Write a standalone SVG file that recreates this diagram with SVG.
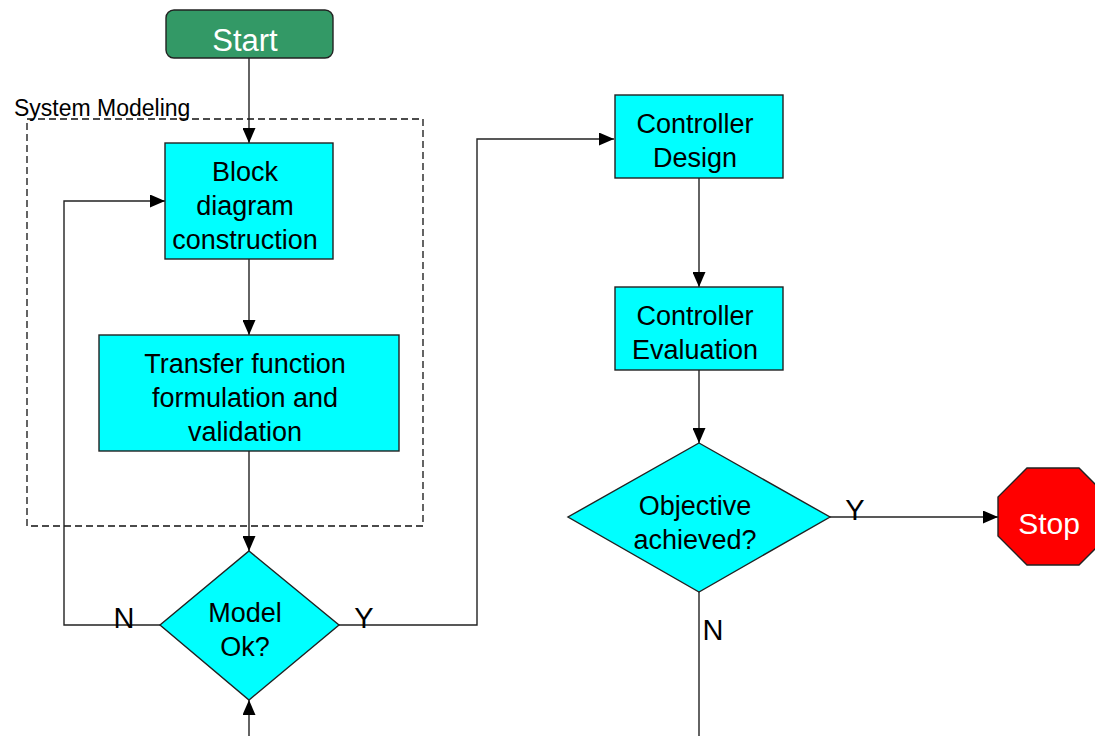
<svg xmlns="http://www.w3.org/2000/svg" width="1095" height="736" viewBox="0 0 1095 736">
  <style>
    .box { fill: #00ffff; stroke: #222; stroke-width: 1.4; }
    .lbl { font-family: "Liberation Sans", Arial, sans-serif; font-size: 27px; fill: #000; text-anchor: middle; }
    .term { font-family: "Liberation Sans", Arial, sans-serif; font-size: 31px; fill: #fff; text-anchor: middle; }
    .yn { font-family: "Liberation Sans", Arial, sans-serif; font-size: 29px; fill: #000; text-anchor: middle; }
    .wire { fill: none; stroke: #222; stroke-width: 1.4; }
    .group { fill: none; stroke: #111; stroke-width: 1.3; stroke-dasharray: 7 4; }
  </style>
  <defs>
    <marker id="arrow" viewBox="0 0 15 13" refX="15" refY="6.5" markerWidth="15" markerHeight="13" markerUnits="userSpaceOnUse" orient="auto">
      <path d="M0,0 L15,6.5 L0,13 Z" fill="#000"/>
    </marker>
  </defs>

  <rect width="1095" height="736" fill="#fff"/>

  <!-- System Modeling group frame -->
  <g id="system-modeling">
    <rect class="group" x="27" y="119" width="396" height="407"/>
    <text x="14" y="116" font-family="Liberation Sans, Arial, sans-serif" font-size="23" fill="#000">System Modeling</text>
  </g>

  <!-- connectors -->
  <g id="connectors">
    <path class="wire" d="M249,58 V143" marker-end="url(#arrow)"/>
    <path class="wire" d="M249,259 V335" marker-end="url(#arrow)"/>
    <path class="wire" d="M249,451 V551" marker-end="url(#arrow)"/>
    <path class="wire" d="M249,736 V700" marker-end="url(#arrow)"/>
    <path class="wire" d="M160,625 H64 V201 H165" marker-end="url(#arrow)"/>
    <path class="wire" d="M339,625 H477 V139 H614" marker-end="url(#arrow)"/>
    <path class="wire" d="M699,178 V287" marker-end="url(#arrow)"/>
    <path class="wire" d="M699,370 V443" marker-end="url(#arrow)"/>
    <path class="wire" d="M830,517 H998" marker-end="url(#arrow)"/>
    <path class="wire" d="M699,592 V736"/>
    <text class="yn" x="124" y="628">N</text>
    <text class="yn" x="364" y="628">Y</text>
    <text class="yn" x="855" y="520">Y</text>
    <text class="yn" x="713" y="640">N</text>
  </g>

  <g id="start">
    <rect x="166" y="10" width="167" height="48" rx="8" fill="#339966" stroke="#222" stroke-width="1.4"/>
    <text class="term" x="245" y="51">Start</text>
  </g>

  <g id="block-diagram">
    <rect class="box" x="165" y="143" width="168" height="116"/>
    <text class="lbl" x="245" y="181">Block</text>
    <text class="lbl" x="245" y="215">diagram</text>
    <text class="lbl" x="245" y="249">construction</text>
  </g>

  <g id="transfer-function">
    <rect class="box" x="99" y="335" width="300" height="116"/>
    <text class="lbl" x="245" y="373">Transfer function</text>
    <text class="lbl" x="245" y="407">formulation and</text>
    <text class="lbl" x="245" y="441">validation</text>
  </g>

  <g id="model-ok">
    <polygon class="box" points="249,551 339,625 249,700 160,625"/>
    <text class="lbl" x="245" y="622">Model</text>
    <text class="lbl" x="245" y="656">Ok?</text>
  </g>

  <g id="controller-design">
    <rect class="box" x="615" y="95" width="168" height="83"/>
    <text class="lbl" x="695" y="133">Controller</text>
    <text class="lbl" x="695" y="167">Design</text>
  </g>

  <g id="controller-evaluation">
    <rect class="box" x="615" y="287" width="168" height="83"/>
    <text class="lbl" x="695" y="325">Controller</text>
    <text class="lbl" x="695" y="359">Evaluation</text>
  </g>

  <g id="objective">
    <polygon class="box" points="699,443 830,517 699,592 568,517"/>
    <text class="lbl" x="695" y="515">Objective</text>
    <text class="lbl" x="695" y="549">achieved?</text>
  </g>

  <g id="stop">
    <polygon points="1027,468 1079,468 1108,497 1108,536 1079,565 1027,565 998,536 998,497" fill="#ff0000" stroke="#222" stroke-width="1.4"/>
    <text class="term" x="1049" y="534" style="font-size:30px">Stop</text>
  </g>
</svg>
